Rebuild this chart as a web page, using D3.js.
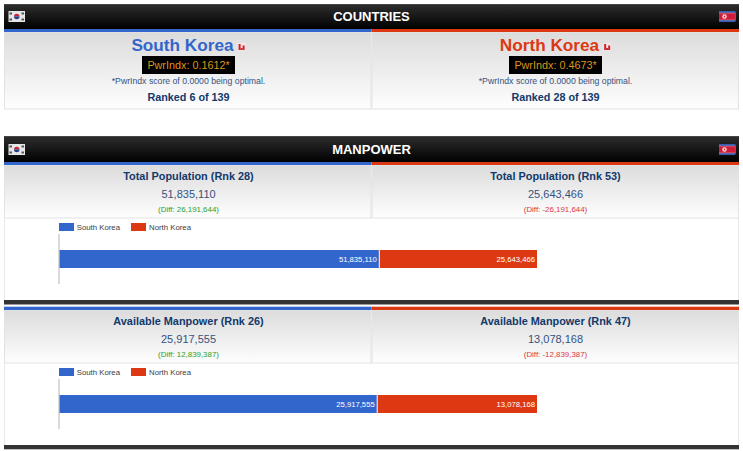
<!DOCTYPE html>
<html>
<head>
<meta charset="utf-8">
<script src="https://cdnjs.cloudflare.com/ajax/libs/d3/7.8.5/d3.min.js"></script>
<style>
html,body{margin:0;padding:0;background:#fff;overflow:hidden}
svg{display:block;font-family:"Liberation Sans",Arial,sans-serif}
</style>
</head>
<body>
<svg id="chart" width="743" height="451"></svg>
<script>
// Country comparison data
const countries = ["South Korea", "North Korea"];
const countryColors = ["#3366cc", "#dc3912"];
const pwrIndex = ["0.1612", "0.4673"];
const overallRanks = [6, 28];
const rankTotal = 139;

const metricNames = ["Total Population", "Available Manpower"];
const southValues = [51835110, 25917555];
const northValues = [25643466, 13078168];
const southRanks = [28, 26];
const northRanks = [53, 47];

const fmtRaw = d3.format(",");
const fmt = v => (v < 0 ? "-" : "") + fmtRaw(Math.abs(v));
const svg = d3.select("#chart");
const navy = "#12396b";
const L = 4, M = 371.5, R = 739;
const centers = [188.5, 555.5];

const defs = svg.append("defs");
function gradient(id, stops) {
  const g = defs.append("linearGradient").attr("id", id)
    .attr("x1", 0).attr("x2", 0).attr("y1", 0).attr("y2", 1);
  stops.forEach(([o, c]) => g.append("stop").attr("offset", o).attr("stop-color", c));
}
gradient("headBg", [[0, "#555"], [0.05, "#2c2c2c"], [1, "#000"]]);
gradient("panelBg", [[0, "#dcdcdc"], [1, "#fefefe"]]);

function text(sel, x, y, str, size, fill, weight, anchor) {
  return sel.append("text").attr("x", x).attr("y", y).text(str)
    .attr("font-size", size).attr("fill", fill)
    .attr("font-weight", weight || "normal")
    .attr("text-anchor", anchor || "middle");
}

function southFlag(x, y) {
  const g = svg.append("g").attr("transform", `translate(${x},${y})`);
  g.append("rect").attr("width", 16.5).attr("height", 11).attr("fill", "#e6e6e6");
  g.append("path").attr("d", "M5.5 5.5a2.75 2.75 0 0 1 5.5 0z").attr("fill", "#c8283c");
  g.append("path").attr("d", "M5.5 5.5a2.75 2.75 0 0 0 5.5 0z").attr("fill", "#1f3f8f");
  [[1, 1.5], [13, 1.5], [1, 7.5], [13, 7.5]].forEach(([a, b]) =>
    g.append("rect").attr("x", a).attr("y", b).attr("width", 2.5).attr("height", 2).attr("fill", "#555"));
}

function northFlag(x, y) {
  const g = svg.append("g").attr("transform", `translate(${x},${y})`);
  g.append("rect").attr("width", 16.5).attr("height", 11).attr("fill", "#3a5cb0");
  g.append("rect").attr("y", 1.8).attr("width", 16.5).attr("height", 7.4).attr("fill", "#d0a0b0");
  g.append("rect").attr("y", 2.3).attr("width", 16.5).attr("height", 6.4).attr("fill", "#d01c38");
  g.append("circle").attr("cx", 5.5).attr("cy", 5.5).attr("r", 2.2).attr("fill", "#f4e8e8");
  g.append("circle").attr("cx", 5.5).attr("cy", 5.5).attr("r", 0.9).attr("fill", "#d01c38");
}

function rankIcon(x, y) {
  const g = svg.append("g").attr("transform", `translate(${x},${y})`);
  g.append("rect").attr("width", 8).attr("height", 8).attr("fill", "#f1e6e6");
  g.append("rect").attr("x", 1).attr("y", 1).attr("width", 2).attr("height", 6).attr("fill", "#d3202c");
  g.append("rect").attr("x", 3).attr("y", 5).attr("width", 2).attr("height", 2).attr("fill", "#d3202c");
  g.append("rect").attr("x", 5).attr("y", 2.5).attr("width", 2).attr("height", 4.5).attr("fill", "#d3202c");
}

function header(y, h, label) {
  svg.append("rect").attr("x", L).attr("y", y).attr("width", R - L).attr("height", h).attr("fill", "url(#headBg)");
  const flagY = y + h - 18;
  southFlag(8.5, flagY);
  northFlag(719, flagY);
  text(svg, 371.5, y + h - 8, label, 13, "#fff", "bold");
}

function colorBars(y, h) {
  countryColors.forEach((c, i) =>
    svg.append("rect").attr("x", i ? M : L).attr("y", y)
      .attr("width", i ? R - M : M - L).attr("height", h).attr("fill", c));
}

function panels(y, h) {
  [[L, M - L], [M, R - M]].forEach(([x, w]) =>
    svg.append("rect").attr("x", x + 0.5).attr("y", y + 0.5).attr("width", w - 1).attr("height", h - 1)
      .attr("fill", "url(#panelBg)").attr("stroke", "#e2e2e2"));
}

// Overview section
header(4, 25, "COUNTRIES");
panels(32, 77.5);
colorBars(29, 3);
countries.forEach((name, i) => {
  const cx = centers[i];
  const t = text(svg, cx, 51, name, 17.2, countryColors[i], "bold", "start");
  const w = t.node().getComputedTextLength();
  const start = cx - (w + 12) / 2;
  t.attr("x", start);
  rankIcon(start + w + 4, 43);
  svg.append("rect").attr("x", cx - 46.5).attr("y", 56).attr("width", 93).attr("height", 18).attr("fill", "#000");
  text(svg, cx, 69, `PwrIndx: ${pwrIndex[i]}*`, 10.8, "#dc951e");
  text(svg, cx, 84, "*PwrIndx score of 0.0000 being optimal.", 8.7, "#34527f");
  text(svg, cx, 101, `Ranked ${overallRanks[i]} of ${rankTotal}`, 10.8, navy, "bold");
});

// One comparison block: two stat panels above a 100% stacked bar
function metric(idx, top) {
  const south = southValues[idx], north = northValues[idx];
  const diff = south - north;
  const vals = [south, north];
  panels(top, 53.5);
  const ranks = [southRanks[idx], northRanks[idx]];
  [0, 1].forEach(i => {
    const cx = centers[i];
    text(svg, cx, top + 15, `${metricNames[idx]} (Rnk ${ranks[i]})`, 10.9, navy, "bold");
    text(svg, cx, top + 33, fmt(vals[i]), 11, "#34527f");
    text(svg, cx, top + 47, `(Diff: ${fmt(i ? -diff : diff)})`, 7.9, i ? "#dc3545" : "#2ca02c");
  });

  // Frame of the chart area
  svg.append("path")
    .attr("d", `M${L + 0.5} ${top + 53.5}V${top + 135}M${R - 0.5} ${top + 53.5}V${top + 135}`)
    .attr("fill", "none").attr("stroke", "#e8e8e8");

  // Legend
  const leg = svg.append("g");
  [[59, 76.7], [131, 149]].forEach(([sx, tx], i) => {
    leg.append("rect").attr("x", sx).attr("y", top + 58).attr("width", 15).attr("height", 8).attr("fill", countryColors[i]);
    text(leg, tx, top + 65, countries[i], 7.8, "#3d3d3d", "normal", "start");
  });

  // Stacked bar
  const rows = [{ key: metricNames[idx], s: south, n: north }];
  const stacked = d3.stack().keys(["s", "n"]).offset(d3.stackOffsetExpand)(rows);
  const x = d3.scaleLinear().domain([0, 1]).range([59, 537]);
  const y = d3.scaleBand().domain(rows.map(d => d.key))
    .range([top + 69, top + 119]).paddingInner(0).paddingOuter(0.889);
  const layer = svg.append("g").selectAll("g").data(stacked).join("g");
  layer.append("rect")
    .attr("x", (d, i) => x(d[0][0]) + (i ? 1 : 0))
    .attr("y", y(rows[0].key))
    .attr("width", (d, i) => x(d[0][1]) - x(d[0][0]) - (i ? 1 : 0))
    .attr("height", y.bandwidth())
    .attr("fill", (d, i) => countryColors[i]);
  layer.append("text")
    .attr("x", d => x(d[0][1]) - 2)
    .attr("y", y(rows[0].key) + y.bandwidth() / 2 + 2.8)
    .attr("text-anchor", "end").attr("font-size", 7.7).attr("fill", "#fff")
    .text((d, i) => fmt(vals[i]));

  // Category axis line
  svg.append("line").attr("x1", 59).attr("x2", 59).attr("y1", top + 69).attr("y2", top + 119)
    .attr("stroke", "#c6c6c6").attr("stroke-width", 1.3);
}

header(136, 26, "MANPOWER");
metric(0, 165);
colorBars(162, 3);
svg.append("rect").attr("x", L).attr("y", 300).attr("width", R - L).attr("height", 4.5).attr("fill", "#333");
metric(1, 310);
colorBars(306.7, 3.3);
svg.append("rect").attr("x", L).attr("y", 445).attr("width", R - L).attr("height", 4.3).attr("fill", "#333");
</script>
</body>
</html>
